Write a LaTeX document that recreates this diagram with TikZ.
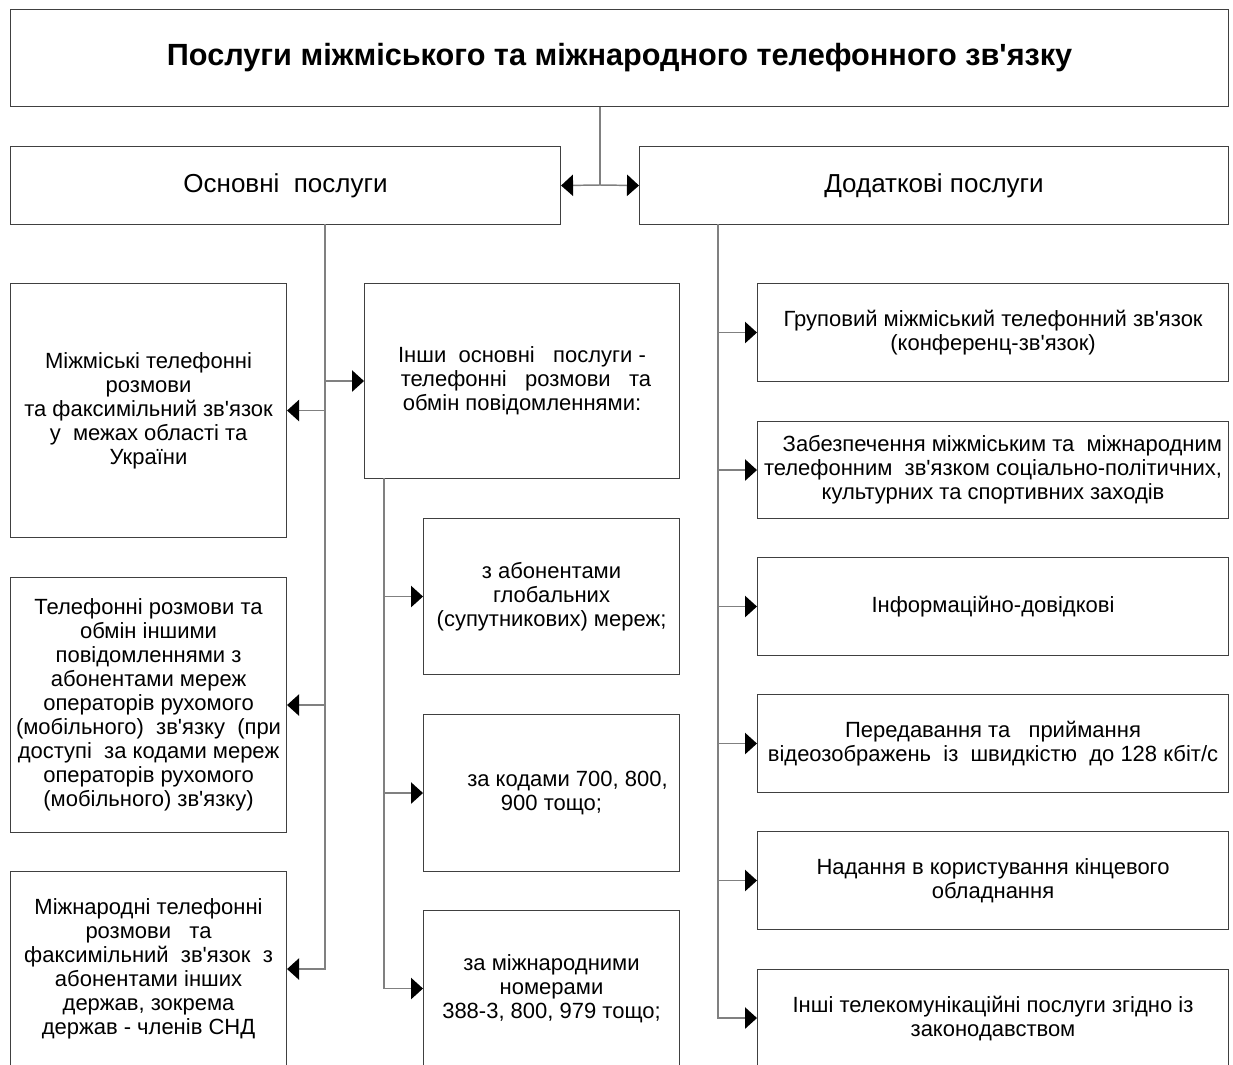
\documentclass[tikz,border=0pt]{standalone}
\usepackage{fontspec}
\setmainfont{Liberation Sans}[Ligatures=TeXOff]
\usetikzlibrary{arrows.meta}

\newcommand{\px}{0.75pt}

\tikzset{
  box/.style={draw=black!75, line width=0.8pt, anchor=north west, align=center,
    inner sep=1pt, font=\fontsize{16.5}{18}\selectfont},
  head/.style={box, font=\fontsize{19.5}{22}\selectfont},
  link/.style={draw=black!50, line width=1.1pt},
  arr/.style={link, -{Triangle[length=9pt,width=16pt,color=black]}},
}

\begin{document}
\begin{tikzpicture}[x=\px,y=-\px]
        \useasboundingbox (0,0) rectangle (1233,1065);
        \clip (0,0) rectangle (1233,1065);

        % top
        \node[box, minimum width=1218*\px, minimum height=97*\px,
          font=\bfseries\fontsize{23}{26}\selectfont] (title) at (10,9)
          {Послуги міжміського та міжнародного телефонного зв'язку};
        \node[head, minimum width=550*\px, minimum height=78*\px] (basic) at (10,146) {Основні~~послуги};
        \node[head, minimum width=589*\px, minimum height=78*\px] (extra) at (639,146) {Додаткові послуги};

        % basic services, left column
        \node[box, minimum width=276*\px, minimum height=254*\px] (l1) at (10,283)
          {Міжміські телефонні\\розмови\\та факсимільний зв'язок\\у~~межах області та\\України};
        \node[box, minimum width=276*\px, minimum height=255*\px] (l2) at (10,577)
          {Телефонні розмови та\\обмін іншими\\повідомленнями з\\абонентами мереж\\операторів рухомого\\(мобільного)~~зв'язку~~(при\\доступі~~за кодами мереж\\операторів рухомого\\(мобільного) зв'язку)};
        \node[box, minimum width=276*\px, minimum height=195*\px] (l3) at (10,871)
          {Міжнародні телефонні\\розмови~~~та\\факсимільний~~зв'язок~~з\\абонентами інших\\держав, зокрема\\держав - членів СНД};

        % basic services, middle column
        \node[box, minimum width=315*\px, minimum height=195*\px] (m0) at (364,283)
          {Інши~~основні~~~послуги -\\\hspace*{6pt}телефонні~~~розмови~~~та\\обмін повідомленнями:};
        \node[box, minimum width=256*\px, minimum height=156*\px] (m1) at (423,518)
          {з абонентами\\глобальних\\(супутникових) мереж;};
        \node[box, minimum width=256*\px, minimum height=157*\px] (m2) at (423,714)
          {\hspace*{24pt}за кодами 700, 800,\\900 тощо;};
        \node[box, minimum width=256*\px, minimum height=156*\px] (m3) at (423,910)
          {за міжнародними\\номерами\\388-3, 800, 979 тощо;};

        % additional services
        \node[box, minimum width=471*\px, minimum height=98*\px] (r1) at (757,283)
          {Груповий міжміський телефонний зв'язок\\(конференц-зв'язок)};
        \node[box, minimum width=471*\px, minimum height=97*\px] (r2) at (757,421)
          {\hspace*{14pt}Забезпечення міжміським та~~міжнародним\\телефонним~~зв'язком соціально-політичних,\\культурних та спортивних заходів};
        \node[box, minimum width=471*\px, minimum height=98*\px] (r3) at (757,557)
          {Інформаційно-довідкові};
        \node[box, minimum width=471*\px, minimum height=98*\px] (r4) at (757,694)
          {Передавання та~~~приймання\\відеозображень~~із~~швидкістю~~до 128 кбіт/с};
        \node[box, minimum width=471*\px, minimum height=98*\px] (r5) at (757,831)
          {Надання в користування кінцевого\\обладнання};
        \node[box, minimum width=471*\px, minimum height=97*\px] (r6) at (757,969)
          {Інші телекомунікаційні послуги згідно із\\законодавством};

        % trunks
        \coordinate (hub) at (600,185);
        \coordinate (ltrunk) at (325,224);
        \coordinate (mtrunk) at (384,478);
        \coordinate (rtrunk) at (718,224);

        % top split
        \draw[link] (title.south -| hub) -- (hub);
        \draw[arr] (hub) -- (basic.east);
        \draw[arr] (hub) -- (extra.west);

        % left trunk
        \draw[arr] (ltrunk) |- (l3.east);
        \draw[arr] (ltrunk |- l1.east) -- (l1.east);
        \draw[arr] (ltrunk |- l2.east) -- (l2.east);
        \draw[arr] (ltrunk |- m0.west) -- (m0.west);

        % middle trunk
        \draw[arr] (mtrunk) |- (m3.west);
        \draw[arr] (mtrunk |- m1.west) -- (m1.west);
        \draw[arr] (mtrunk |- m2.west) -- (m2.west);

        % right trunk
        \draw[arr] (rtrunk) |- (r6.west);
        \draw[arr] (rtrunk |- r1.west) -- (r1.west);
        \draw[arr] (rtrunk |- r2.west) -- (r2.west);
        \draw[arr] (rtrunk |- r3.west) -- (r3.west);
        \draw[arr] (rtrunk |- r4.west) -- (r4.west);
        \draw[arr] (rtrunk |- r5.west) -- (r5.west);
    \end{tikzpicture}
\end{document}
